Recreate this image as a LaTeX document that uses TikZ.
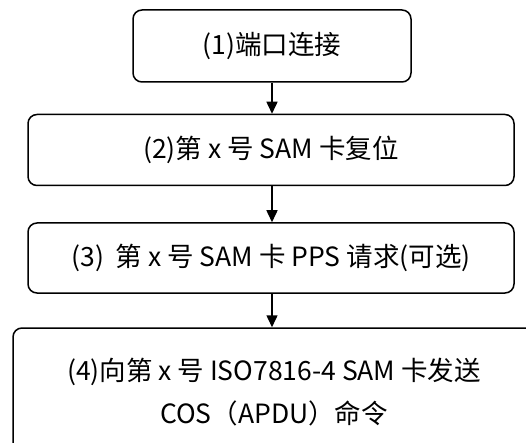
\documentclass[tikz,border=0pt]{standalone}
\usepackage{fontspec}
\setmainfont{Noto Sans CJK SC}
\usetikzlibrary{arrows.meta}

\tikzset{
  stepbox/.style={draw, line width=1.5pt, rounded corners=9pt, align=center,
    inner sep=0pt, font=\fontsize{26.5}{43}\selectfont},
  flow/.style={line width=1.5pt, -{Triangle[length=12pt,width=11pt]}}
}

\begin{document}
\begin{tikzpicture}[x=1pt,y=-1pt]

\useasboundingbox (0,0) rectangle (526,443);
\clip (0,0) rectangle (526,443);

\node[stepbox, minimum width=278pt, minimum height=72pt] (port) at (272,46) {(1)端口连接};
\node[stepbox, minimum width=486pt, minimum height=71pt] (reset) at (271,150) {(2)第 x 号 SAM 卡复位};
\node[stepbox, minimum width=486pt, minimum height=70pt] (pps) at (271,258) {(3)~ 第 x 号 SAM 卡 PPS 请求(可选)};
\node[stepbox, minimum width=522pt, minimum height=128pt] (apdu) at (274,392)
  {(4)向第 x 号 ISO7816-4 SAM 卡发送\\COS（APDU）命令};

\draw[flow] (port.south) -- (port.south |- reset.north);
\draw[flow] (reset.south -| port.south) -- (port.south |- pps.north);
\draw[flow] (pps.south -| port.south) -- (port.south |- apdu.north);

\end{tikzpicture}
\end{document}
